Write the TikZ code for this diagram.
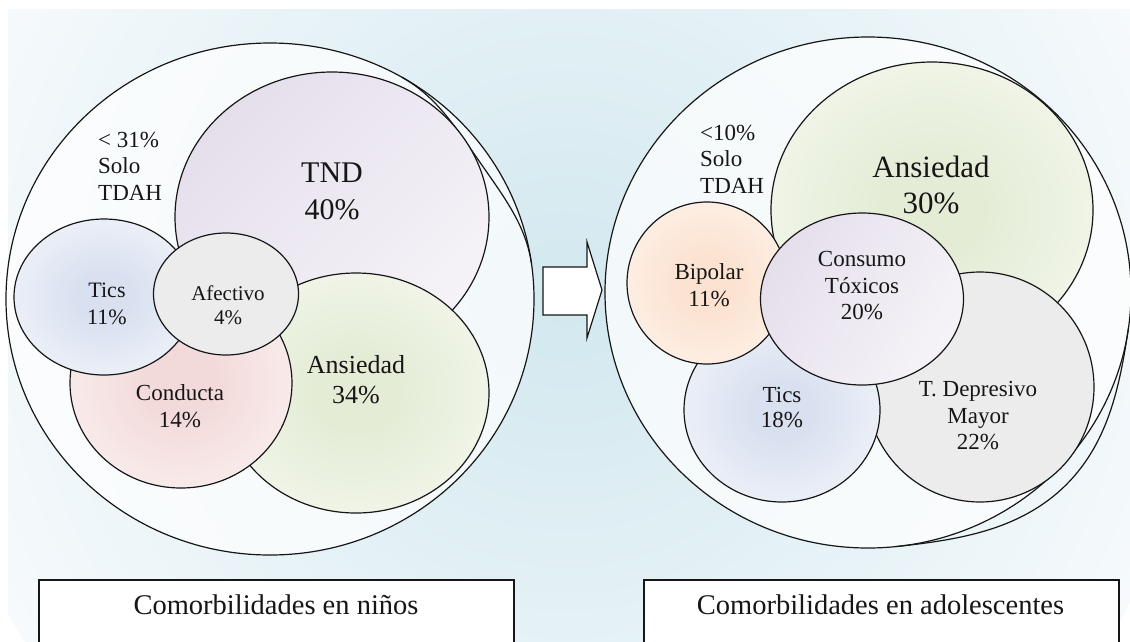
\documentclass[tikz,border=0pt]{standalone}
\usepackage{fontspec}
\setmainfont{Liberation Serif}
\usetikzlibrary{shapes.geometric}

% palette
\definecolor{bgIn}{HTML}{D2E8EF}
\definecolor{bgOut}{HTML}{F6FAFC}
\definecolor{ink}{HTML}{161616}
\definecolor{lavA}{HTML}{E5DFEC}
\definecolor{lavB}{HTML}{F6F3F8}
\definecolor{blueIn}{HTML}{D9E1F0}
\definecolor{blueMid}{HTML}{F0F3F9}
\definecolor{blueOut}{HTML}{F8FAFC}
\definecolor{pinkIn}{HTML}{F3DADA}
\definecolor{pinkMid}{HTML}{FAEFEF}
\definecolor{pinkOut}{HTML}{FDF8F8}
\definecolor{greenIn}{HTML}{E4ECD6}
\definecolor{greenMid}{HTML}{F3F7EC}
\definecolor{greenOut}{HTML}{FAFCF6}
\definecolor{peachIn}{HTML}{FCE2D0}
\definecolor{peachMid}{HTML}{FDF1E8}
\definecolor{peachOut}{HTML}{FEF9F5}
\definecolor{greyIn}{HTML}{ECECEC}
\definecolor{greyOut}{HTML}{F3F3F3}

\pgfdeclareradialshading{shBlue}{\pgfpoint{0bp}{0bp}}{color(0bp)=(blueIn); color(8bp)=(blueIn); color(30bp)=(blueMid); color(50bp)=(blueOut)}
\pgfdeclareradialshading{shPink}{\pgfpoint{0bp}{0bp}}{color(0bp)=(pinkIn); color(8bp)=(pinkIn); color(30bp)=(pinkMid); color(50bp)=(pinkOut)}
\pgfdeclareradialshading{shGreen}{\pgfpoint{0bp}{0bp}}{color(0bp)=(greenIn); color(8bp)=(greenIn); color(30bp)=(greenMid); color(50bp)=(greenOut)}
\pgfdeclareradialshading{shPeach}{\pgfpoint{0bp}{0bp}}{color(0bp)=(peachIn); color(8bp)=(peachIn); color(30bp)=(peachMid); color(50bp)=(peachOut)}
\pgfdeclareradialshading{shGrey}{\pgfpoint{0bp}{0bp}}{color(0bp)=(greyIn); color(25bp)=(greyIn); color(50bp)=(greyOut)}

\tikzset{
  ring/.style={draw=ink, line width=1.2pt},
  blob/.style={ellipse, draw=ink, line width=1.2pt, inner sep=0pt, outer sep=0pt},
  lbl/.style={text=ink, align=center, inner sep=0pt},
  lblsmall/.style={lbl, font=\fontsize{23}{26.5}\selectfont},
  lblbig/.style={lbl, font=\fontsize{30}{37}\selectfont},
  titlebox/.style={draw=ink, line width=1.5pt, fill=white, inner sep=0pt,
                   minimum width=475pt, minimum height=64pt},
  titletext/.style={text=ink, inner sep=0pt, font=\fontsize{28.5}{34}\selectfont},
}

\begin{document}
\begin{tikzpicture}[x=1pt, y=-1pt]
\useasboundingbox (0,0) rectangle (1130,641);
\fill[white] (0,0) rectangle (1130,641);
\clip (0,0) rectangle (1130,641);

% soft background panel
\begin{scope}
  \clip (8,9) rectangle (1130,641);
  \shade[inner color=bgIn, outer color=bgOut] (566,300) circle (640pt);
\end{scope}

% ---------- children ----------
\node[blob, fill=white, fill opacity=0.72, minimum width=528pt, minimum height=512pt] (bigL) at (270,299) {};
% second, slightly flattened outline on the upper right
\draw[ring] plot[domain=8:60, samples=50, smooth]
  ({270+264*cos(\x)*(1-0.042*sin((\x-8)*3.4615)*sin((\x-8)*3.4615))},
   {299-256*sin(\x)*(1-0.042*sin((\x-8)*3.4615)*sin((\x-8)*3.4615))});

\node[blob, top color=lavA, bottom color=lavB, shading angle=45,
      minimum width=314pt, minimum height=290pt] (tnd) at (332,217) {};
\node[blob, shading=shGreen, minimum width=266pt, minimum height=240pt] (ansL) at (356,393) {};
\node[blob, shading=shPink, minimum width=222pt, minimum height=210pt] (condL) at (181,383) {};
\node[blob, shading=shBlue, minimum width=180pt, minimum height=156pt] (ticsL) at (104,297) {};
\node[blob, shading=shGrey, minimum width=145pt, minimum height=122pt] (afecL) at (226,294) {};

\node[lblsmall, align=left, anchor=west] (soloL) at (98,166) {< 31\%\\Solo\\TDAH};
\node[lblbig] (tndT) at (332,191) {TND\\40\%};
\node[lbl, font=\fontsize{22}{27}\selectfont] (ticsLT) at (107,304) {Tics\\11\%};
\node[lbl, font=\fontsize{21}{24}\selectfont] (afecLT) at (228,305) {Afectivo\\4\%};
\node[lblsmall] (condLT) at (180,406) {Conducta\\14\%};
\node[lbl, font=\fontsize{26}{30}\selectfont] (ansLT) at (356,380) {Ansiedad\\34\%};

% ---------- transition arrow ----------
\draw[ring, fill=white, line join=miter]
  (543,267) -- (587,267) -- (587,242) -- (602,290) -- (587,338) -- (587,315) -- (543,315) -- cycle;

% ---------- adolescents ----------
\node[blob, fill=white, fill opacity=0.72, minimum width=526pt, minimum height=511pt] (bigR) at (868,292.5) {};
% second outline bulging out on the lower right
\draw[ring] plot[domain=-84:-8, samples=60, smooth]
  ({868+263*cos(\x)*(1+0.065*sin((\x+84)*2.3684)*sin((\x+84)*2.3684))},
   {292.5-255.5*sin(\x)*(1+0.065*sin((\x+84)*2.3684)*sin((\x+84)*2.3684))});

\node[blob, shading=shGreen, minimum width=322pt, minimum height=296pt] (ansR) at (932,210) {};
\node[blob, shading=shGrey, minimum width=228pt, minimum height=230pt] (depR) at (980,387) {};
\node[blob, shading=shBlue, minimum width=196pt, minimum height=184pt] (ticsR) at (782,410) {};
\node[blob, shading=shPeach, minimum width=160pt, minimum height=162pt] (bipR) at (707,283) {};
\node[blob, top color=lavA, bottom color=lavB, shading angle=60,
      minimum width=203pt, minimum height=172pt] (toxR) at (862,299) {};

\node[lblsmall, align=left, anchor=west] (soloR) at (700,159) {<10\%\\Solo\\TDAH};
\node[lbl, font=\fontsize{31}{36}\selectfont] (ansRT) at (931,185) {Ansiedad\\30\%};
\node[lblsmall] (bipRT) at (709,285) {Bipolar\\11\%};
\node[lblsmall] (toxRT) at (862,286) {Consumo\\Tóxicos\\20\%};
\node[lbl, font=\fontsize{23}{25}\selectfont] (ticsRT) at (782,408) {Tics\\18\%};
\node[lblsmall] (depRT) at (978,416) {T. Depresivo\\Mayor\\22\%};

% ---------- captions ----------
\node[titlebox, anchor=north west] (boxL) at (38,579) {};
\node[titletext] (capL) at (276,605) {Comorbilidades en niños};
\node[titlebox, anchor=north west] (boxR) at (643,579) {};
\node[titletext] (capR) at (880.5,605) {Comorbilidades en adolescentes};
\end{tikzpicture}
\end{document}
